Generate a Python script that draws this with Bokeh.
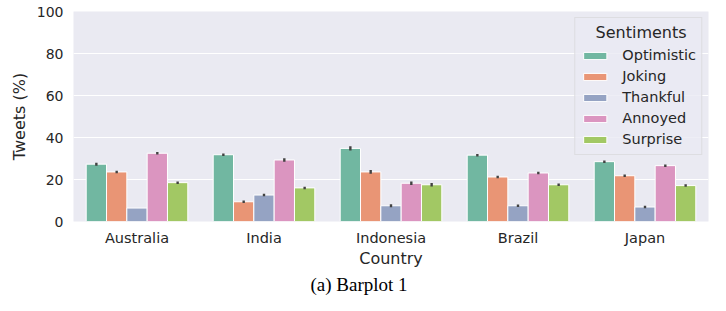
from bokeh.plotting import figure
from bokeh.models import (FactorRange, Range1d, Legend, LegendItem, Title,
                          ColumnDataSource, SingleIntervalTicker)
from bokeh.transform import dodge
from bokeh.embed import file_html
from bokeh.resources import INLINE

countries = ["Australia", "India", "Indonesia", "Brazil", "Japan"]
sentiments = ["Optimistic", "Joking", "Thankful", "Annoyed", "Surprise"]

optimistic = [27.3, 31.8, 34.8, 31.6, 28.5]
joking = [23.6, 9.4, 23.6, 21.2, 21.8]
thankful = [6.4, 12.6, 7.5, 7.5, 6.9]
annoyed = [32.5, 29.3, 18.2, 23.1, 26.6]
surprise = [18.5, 16.0, 17.5, 17.5, 17.1]

optimistic_err = [0.7, 0.6, 1.0, 0.6, 0.6]
joking_err = [0.6, 0.6, 0.9, 0.6, 0.6]
thankful_err = [0.0, 0.6, 0.7, 0.6, 0.6]
annoyed_err = [0.6, 0.8, 0.8, 0.6, 0.6]
surprise_err = [0.6, 0.6, 0.8, 0.6, 0.6]

colors = ["#71b7a1", "#e99575", "#95a3c3", "#db95c0", "#a2c864"]

series = [optimistic, joking, thankful, annoyed, surprise]
errors = [optimistic_err, joking_err, thankful_err, annoyed_err, surprise_err]

data = {"country": countries}
for name, vals, errs in zip(sentiments, series, errors):
    data[name] = vals
    data[name + "_lo"] = [v - e for v, e in zip(vals, errs)]
    data[name + "_hi"] = [v + e for v, e in zip(vals, errs)]
src = ColumnDataSource(data)

TEXT = "#262626"
FONT = "DejaVu Sans"

p = figure(width=710, height=295, x_range=FactorRange(*countries, range_padding=0),
           y_range=Range1d(0, 100), output_backend="svg", toolbar_location=None,
           min_border_left=73, min_border_right=2, min_border_top=11, min_border_bottom=74)
p.background_fill_color = "#EAEAF2"
p.border_fill_color = "white"
p.outline_line_color = None

bar_w = 0.16
offsets = [-0.32, -0.16, 0.0, 0.16, 0.32]
items = []
for name, col, off in zip(sentiments, colors, offsets):
    r = p.vbar(x=dodge("country", off, range=p.x_range), top=name, width=bar_w,
               source=src, fill_color=col, line_color="white", line_width=1)
    p.segment(x0=dodge("country", off, range=p.x_range), y0=name + "_lo",
              x1=dodge("country", off, range=p.x_range), y1=name + "_hi",
              source=src, line_color="#424242", line_width=2.4)
    items.append(LegendItem(label=name, renderers=[r]))

# axes
p.yaxis.ticker = SingleIntervalTicker(interval=20)
p.ygrid.ticker = SingleIntervalTicker(interval=20)
p.xgrid.grid_line_color = None
p.ygrid.grid_line_color = "white"
p.ygrid.grid_line_width = 1.2

for ax in (p.xaxis, p.yaxis):
    ax.axis_line_color = None
    ax.major_tick_line_color = None
    ax.minor_tick_line_color = None
    ax.major_tick_out = 0
    ax.major_tick_in = 0
    ax.minor_tick_out = 0
    ax.major_label_text_font = FONT
    ax.major_label_text_color = TEXT
    ax.axis_label_text_font = FONT
    ax.axis_label_text_color = TEXT
    ax.axis_label_text_font_style = "normal"
    ax.axis_label_text_font_size = "16px"

p.xaxis.major_label_text_font_size = "14.5px"
p.yaxis.major_label_text_font_size = "14px"
p.xaxis.major_label_standoff = 8
p.yaxis.major_label_standoff = 10
p.xaxis.axis_label = "Country"
p.yaxis.axis_label = "Tweets (%)"
p.xaxis.axis_label_standoff = 0
p.yaxis.axis_label_standoff = 5

legend = Legend(items=items, location="top_right",
                title="\u00a0\u00a0\u00a0Sentiments",
                title_text_font=FONT, title_text_font_size="16px",
                title_text_font_style="normal", title_text_color=TEXT,
                title_standoff=3,
                label_text_font=FONT, label_text_font_size="14.5px",
                label_text_color=TEXT, label_standoff=13,
                glyph_width=29, glyph_height=9, label_height=20, spacing=1,
                padding=5, margin=6,
                background_fill_color="#EAEAF2", background_fill_alpha=0.8,
                border_line_color="#d0d0d0", border_line_width=1)
p.add_layout(legend)

caption = Title(text="(a) Barplot 1", align="left", offset=237,
                text_font="Liberation Serif", text_font_size="19px",
                text_font_style="normal", text_color="black", standoff=2)
p.add_layout(caption, "below")

open("out.html", "w").write(file_html(p, INLINE))
